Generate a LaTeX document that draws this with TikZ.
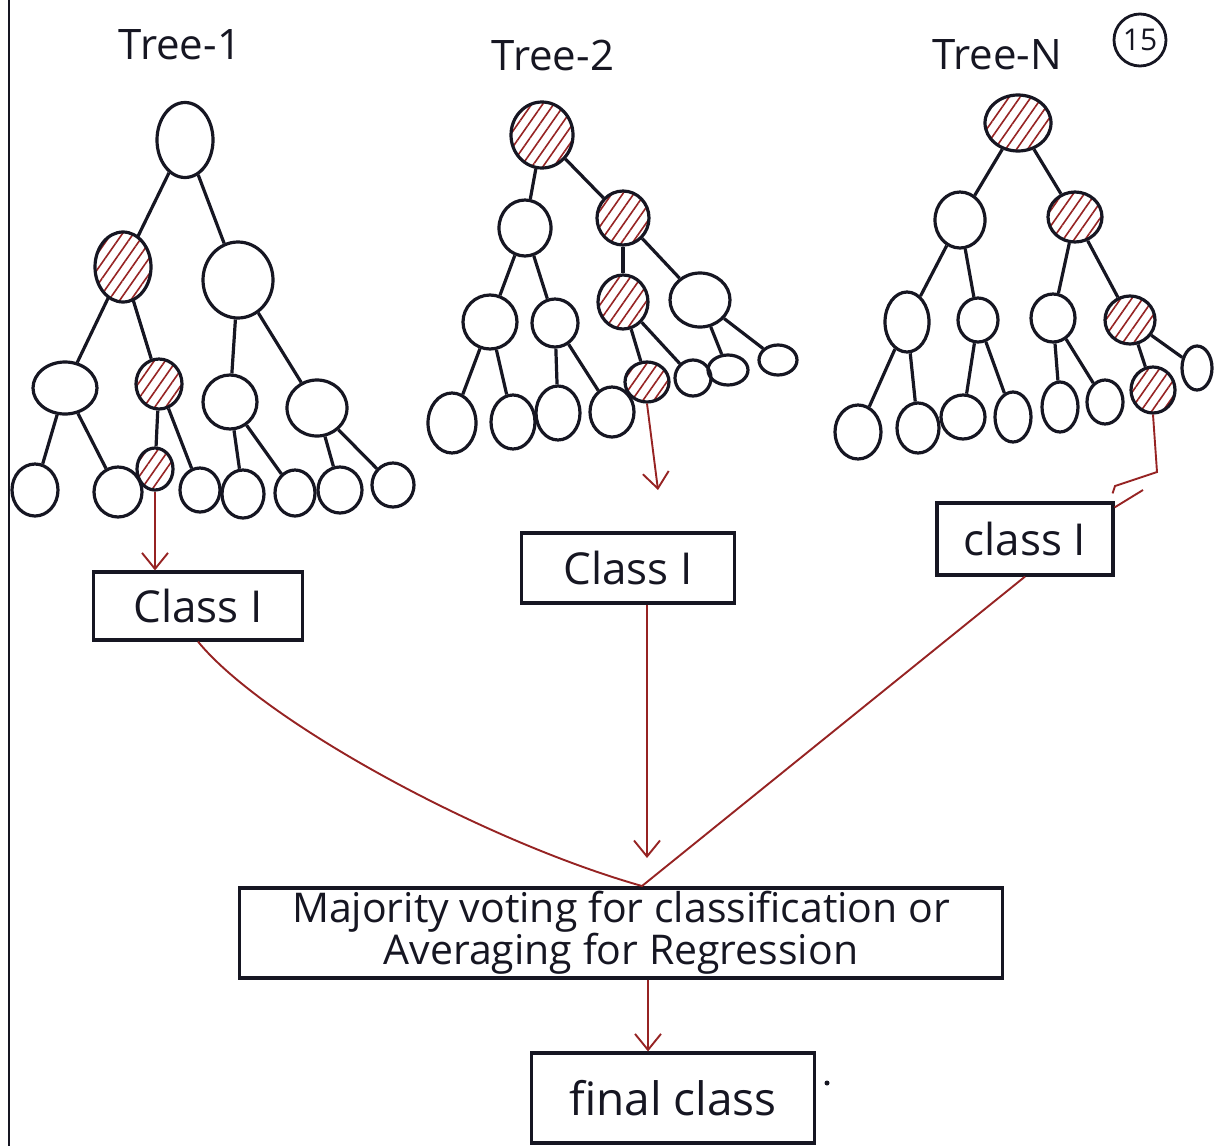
\documentclass[tikz,border=0pt]{standalone}
\usepackage{fontspec}
\setmainfont{Open Sans}
\usetikzlibrary{shapes.geometric,arrows.meta,patterns.meta,calc}
\definecolor{ink}{RGB}{22,22,34}
\definecolor{hred}{RGB}{150,35,35}
\begin{document}
\begin{tikzpicture}[x=1pt,y=-1pt,
  nd/.style={ellipse, draw=ink, line width=3.2pt, inner sep=0pt},
  hn/.style={nd, pattern={Lines[angle=55,distance=9pt,line width=1.6pt]}, pattern color=hred},
  edge/.style={draw=ink, line width=3.2pt},
  redln/.style={draw=hred, line width=1.9pt},
  rarr/.style={redln, -{Straight Barb[length=16pt,width=26pt,line width=1.9pt]}},
  bx/.style={draw=ink, line width=3.2pt, rectangle, inner sep=0pt},
  ttl/.style={font=\fontsize{42}{46}\selectfont, text=ink},
  cls/.style={bx, font=\fontsize{44}{48}\selectfont, text=ink}]
\useasboundingbox (0,0) rectangle (1215,1146);
% notebook margin
\coordinate (m1) at (9,0); \coordinate (m2) at (9,1146);
\draw[ink, line width=2.8pt] (m1) -- (m2);

% titles
\node[ttl] (title1) at (180,45) {Tree-1};
\node[ttl] (title2) at (553,55) {Tree-2};
\node[ttl] (title3) at (997,55) {Tree-N};
\node[circle, draw=ink, line width=2.8pt, minimum size=52pt, inner sep=0pt, font=\fontsize{30}{32}\selectfont, text=ink] (pg) at (1140,40) {15};

% Tree 1
\node[nd, minimum width=56pt, minimum height=75pt] (t1r) at (185,140) {};
\node[hn, minimum width=56pt, minimum height=70pt] (t1a) at (123,267) {};
\node[nd, minimum width=70pt, minimum height=76pt] (t1b) at (238,280) {};
\node[nd, minimum width=64pt, minimum height=52pt] (t1c) at (65,388) {};
\node[hn, minimum width=46pt, minimum height=50pt] (t1d) at (159,384) {};
\node[nd, minimum width=54pt, minimum height=54pt] (t1e) at (230,402) {};
\node[nd, minimum width=60pt, minimum height=56pt] (t1f) at (317,408) {};
\node[nd, minimum width=46pt, minimum height=52pt] (t1g) at (35,490) {};
\node[nd, minimum width=48pt, minimum height=50pt] (t1h) at (118,492) {};
\node[hn, minimum width=36pt, minimum height=42pt] (t1i) at (155,469) {};
\node[nd, minimum width=40pt, minimum height=44pt] (t1j) at (200,490) {};
\node[nd, minimum width=42pt, minimum height=48pt] (t1k) at (243,494) {};
\node[nd, minimum width=40pt, minimum height=46pt] (t1l) at (295,493) {};
\node[nd, minimum width=44pt, minimum height=46pt] (t1m) at (340,490) {};
\node[nd, minimum width=42pt, minimum height=44pt] (t1n) at (393,485) {};

% Tree 2
\node[hn, minimum width=62pt, minimum height=66pt] (t2r) at (542,135) {};
\node[nd, minimum width=52pt, minimum height=56pt] (t2a) at (525,228) {};
\node[hn, minimum width=52pt, minimum height=54pt] (t2b) at (623,218) {};
\node[nd, minimum width=54pt, minimum height=54pt] (t2c) at (490,322) {};
\node[nd, minimum width=46pt, minimum height=48pt] (t2d) at (555,323) {};
\node[hn, minimum width=50pt, minimum height=54pt] (t2e) at (623,302) {};
\node[nd, minimum width=60pt, minimum height=54pt] (t2f) at (700,300) {};
\node[nd, minimum width=48pt, minimum height=60pt] (t2g) at (452,423) {};
\node[nd, minimum width=44pt, minimum height=54pt] (t2h) at (513,422) {};
\node[nd, minimum width=44pt, minimum height=54pt] (t2i) at (558,413) {};
\node[nd, minimum width=44pt, minimum height=50pt] (t2j) at (612,412) {};
\node[hn, minimum width=44pt, minimum height=40pt] (t2k) at (647,382) {};
\node[nd, minimum width=36pt, minimum height=36pt] (t2l) at (693,378) {};
\node[nd, minimum width=40pt, minimum height=30pt] (t2m) at (728,370) {};
\node[nd, minimum width=38pt, minimum height=30pt] (t2n) at (778,360) {};

% Tree 3
\node[hn, minimum width=66pt, minimum height=56pt] (t3r) at (1018,123) {};
\node[nd, minimum width=50pt, minimum height=56pt] (t3a) at (960,220) {};
\node[hn, minimum width=54pt, minimum height=50pt] (t3b) at (1075,217) {};
\node[nd, minimum width=44pt, minimum height=60pt] (t3c) at (907,322) {};
\node[nd, minimum width=40pt, minimum height=44pt] (t3d) at (978,320) {};
\node[nd, minimum width=44pt, minimum height=48pt] (t3e) at (1053,318) {};
\node[hn, minimum width=50pt, minimum height=48pt] (t3f) at (1130,320) {};
\node[nd, minimum width=46pt, minimum height=54pt] (t3g) at (858,432) {};
\node[nd, minimum width=42pt, minimum height=50pt] (t3h) at (918,428) {};
\node[nd, minimum width=44pt, minimum height=44pt] (t3i) at (963,417) {};
\node[nd, minimum width=36pt, minimum height=50pt] (t3j) at (1013,417) {};
\node[nd, minimum width=36pt, minimum height=50pt] (t3k) at (1060,407) {};
\node[nd, minimum width=36pt, minimum height=44pt] (t3l) at (1105,402) {};
\node[hn, minimum width=44pt, minimum height=46pt] (t3m) at (1153,390) {};
\node[nd, minimum width=30pt, minimum height=44pt] (t3n) at (1197,368) {};

% tree edges
\foreach \t in {t1,t2,t3}{
  \foreach \p/\c in {r/a,r/b,a/c,a/d,b/e,b/f,c/g,c/h,d/i,d/j,e/k,e/l,f/m,f/n}
    \draw[edge] (\t\p) -- (\t\c);
}

% class boxes
\node[cls, minimum width=209pt, minimum height=68pt] (box1) at (198,606) {Class I};
\node[cls, minimum width=213pt, minimum height=70pt] (box2) at (628,568) {Class I};
\node[cls, minimum width=176pt, minimum height=72pt] (box3) at (1025,539) {class I};

% vote box and final
\node[bx, minimum width=763pt, minimum height=90pt, align=center, font=\fontsize{41}{42}\selectfont, text=ink] (vote) at (621,933) {Majority voting for classification or\\Averaging for Regression};
\node[bx, minimum width=283pt, minimum height=90pt, font=\fontsize{46}{50}\selectfont, text=ink] (final) at (673,1098) {final class};
\node[circle, fill=ink, minimum size=5pt, inner sep=0pt] (dot) at (827,1083) {};

% red connectors
\draw[rarr] (t1i.south) -- (t1i.south |- box1.north);
\coordinate (tip2) at (658,490);
\draw[rarr] (t2k.south) -- (tip2);
\coordinate (c3a) at (1157,472);
\coordinate (c3b) at (1115,486);
\coordinate (c3c) at (1143,490);
\draw[redln] (t3m.south) -- (c3a) -- (c3b) -- ($(box3.north east)+(-2,-8)$);
\draw[redln] (c3c) -- ($(box3.north east)+(0,6)$);

\coordinate (conv) at (642,886);
\coordinate (tip3) at (647,858);
\draw[redln] (box1.south) .. controls (262,720) and (480,840) .. (conv) -- (box3.south);
\draw[rarr] (box2.south -| tip3) -- (tip3);
\coordinate (x4) at (648,0);
\draw[rarr] (vote.south -| x4) -- (final.north -| x4);
\end{tikzpicture}
\end{document}
